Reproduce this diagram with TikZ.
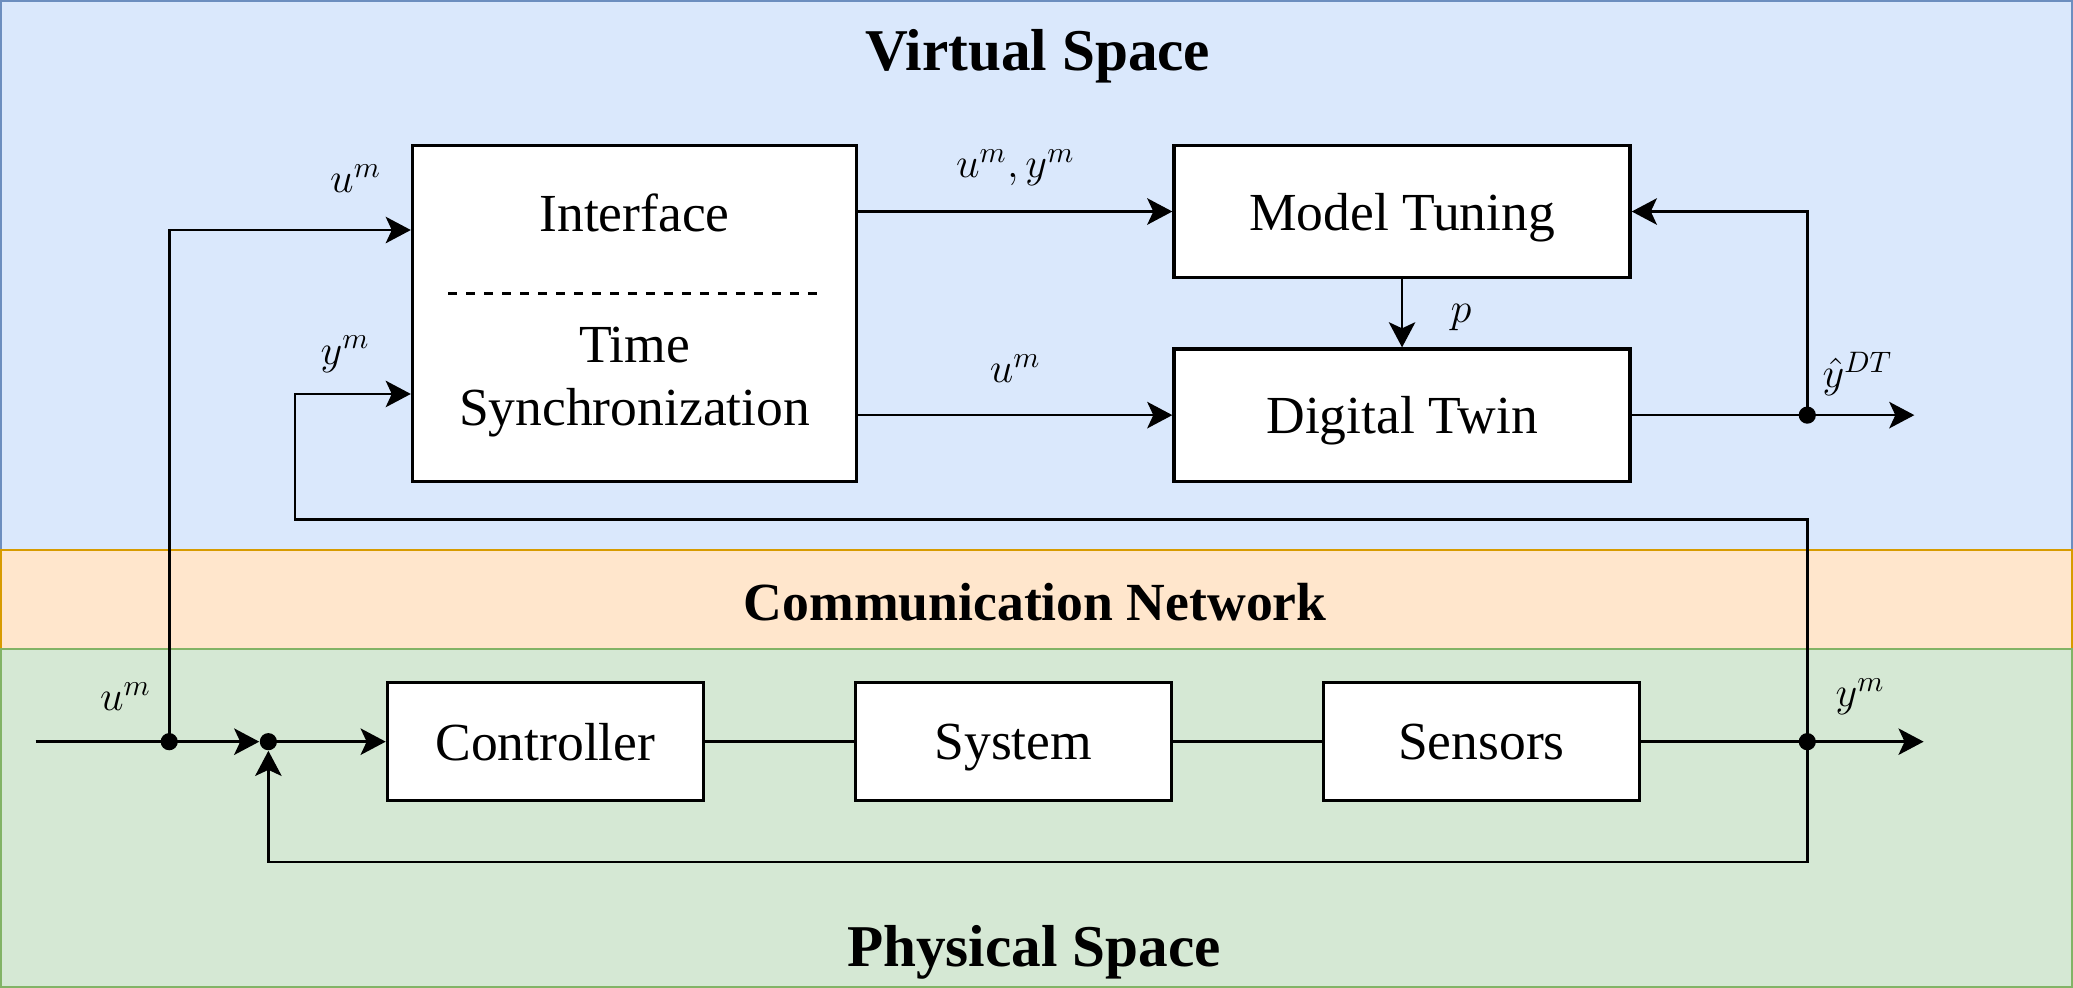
\RequirePackage{fix-cm}
\documentclass[tikz,border=0pt]{standalone}
\usepackage{fontspec}
\setmainfont{Liberation Serif}
\usetikzlibrary{arrows.meta,calc}
\definecolor{vfill}{HTML}{DAE8FC}
\definecolor{vline}{HTML}{6C8EBF}
\definecolor{cfill}{HTML}{FFE6CC}
\definecolor{cline}{HTML}{D79B00}
\definecolor{pfill}{HTML}{D5E8D4}
\definecolor{pline}{HTML}{82B366}
\begin{document}
\begin{tikzpicture}[x=0.5pt,y=-0.5pt,
  blk/.style={draw,line width=1.25pt,fill=white,inner sep=0pt,text depth=0pt,font=\fontsize{20.25}{23.5}\selectfont},
  txt/.style={inner sep=0pt,font=\fontsize{20.25}{24}\selectfont},
  lbl/.style={inner sep=0pt,font=\fontsize{16}{19}\selectfont},
  ttl/.style={inner sep=0pt,anchor=base,font=\fontsize{22.4}{26}\selectfont\bfseries},
  conn/.style={line width=1pt},
  arr/.style={conn,-{Stealth[length=9.5pt,width=10pt,inset=2.3pt]}},
  jdot/.style={circle,fill=black,inner sep=0pt,minimum size=6.5pt},
]
\useasboundingbox (0,0) rectangle (1568,747);
% regions
\draw[fill=vfill,draw=vline,line width=0.75pt] (0.75,0.75) rectangle (1567.25,416);
\draw[fill=cfill,draw=cline,line width=0.75pt] (0.75,416) rectangle (1567.25,491);
\draw[fill=pfill,draw=pline,line width=0.75pt] (0.75,491) rectangle (1567.25,746.25);
\node[ttl] (tv) at (785,53) {Virtual Space};
\node[ttl,font=\fontsize{20.3}{24}\selectfont\bfseries] (tc) at (783,469) {Communication Network};
\node[ttl] (tp) at (782,731) {Physical Space};
% blocks
\node[blk,minimum width=168pt,minimum height=127pt] (intf) at (480,237) {};
\node[txt,text depth=0pt] (intfA) at (480,161) {Interface};
\node[txt,align=center] (intfB) at (480,289) {Time\\Synchronization};
\coordinate (dl) at (339,222);
\coordinate (dr) at (620,222);
\draw[conn,dash pattern=on 3.4pt off 3.4pt] (dl) -- (dr);
\node[blk,minimum width=172.5pt,minimum height=50pt] (mt) at (1060.5,160) {Model Tuning};
\node[blk,minimum width=172.5pt,minimum height=50pt] (dt) at (1060.5,314) {Digital Twin};
\node[blk,minimum width=119.5pt,minimum height=44.5pt] (ctrl) at (412.5,561) {Controller};
\node[blk,minimum width=119.5pt,minimum height=44.5pt] (sys) at (766.5,561) {System};
\node[blk,minimum width=119.5pt,minimum height=44.5pt] (sens) at (1120.5,561) {Sensors};
% junctions
\node[jdot] (j1) at (1367,314) {};
\node[jdot] (jb) at (1367,561) {};
\node[jdot] (ja) at (128,561) {};
\node[jdot] (sum) at (203,561) {};
\coordinate (yout) at (1448,314);
\coordinate (ymout) at (1455,561);
\coordinate (uin) at (27,561);
% virtual connectors
\draw[arr] (mt.west -| intf.east) -- (mt.west);
\draw[arr] (dt.west -| intf.east) -- (dt.west);
\draw[arr] (mt.south) -- (dt.north);
\draw[conn] (dt.east) -- (j1.center);
\draw[arr] (j1.center) -- (yout);
\draw[arr] (j1.center) |- (mt.east);
\draw[arr] (ja.center) |- ($(intf.west)+(0,-63)$);
\draw[arr] (jb.center) -- (1367,393) -- (223,393) |- ($(intf.west)+(0,61)$);
% physical connectors
\draw[conn] (uin) -- (ja.center);
\draw[arr] (ja.center) -- (sum);
\draw[arr] (sum.center) -- (ctrl.west);
\draw[conn] (ctrl.east) -- (sys.west);
\draw[conn] (sys.east) -- (sens.west);
\draw[conn] (sens.east) -- (jb.center);
\draw[arr] (jb.center) -- (ymout);
\draw[arr] (jb.center) -- (1367,652) -| (sum);
% labels
\node[lbl] (l1) at (269,135) {$u^m$};
\node[lbl] (l2) at (261,268) {$y^m$};
\node[lbl] (l3) at (768,127) {$u^m,y^m$};
\node[lbl] (l4) at (768,279) {$u^m$};
\node[lbl] (l5) at (1105,240) {$p$};
\node[lbl] (l6) at (1405,283) {$\hat{y}^{DT}$};
\node[lbl] (l7) at (95,527) {$u^m$};
\node[lbl] (l8) at (1407,527) {$y^m$};
\end{tikzpicture}
\end{document}
